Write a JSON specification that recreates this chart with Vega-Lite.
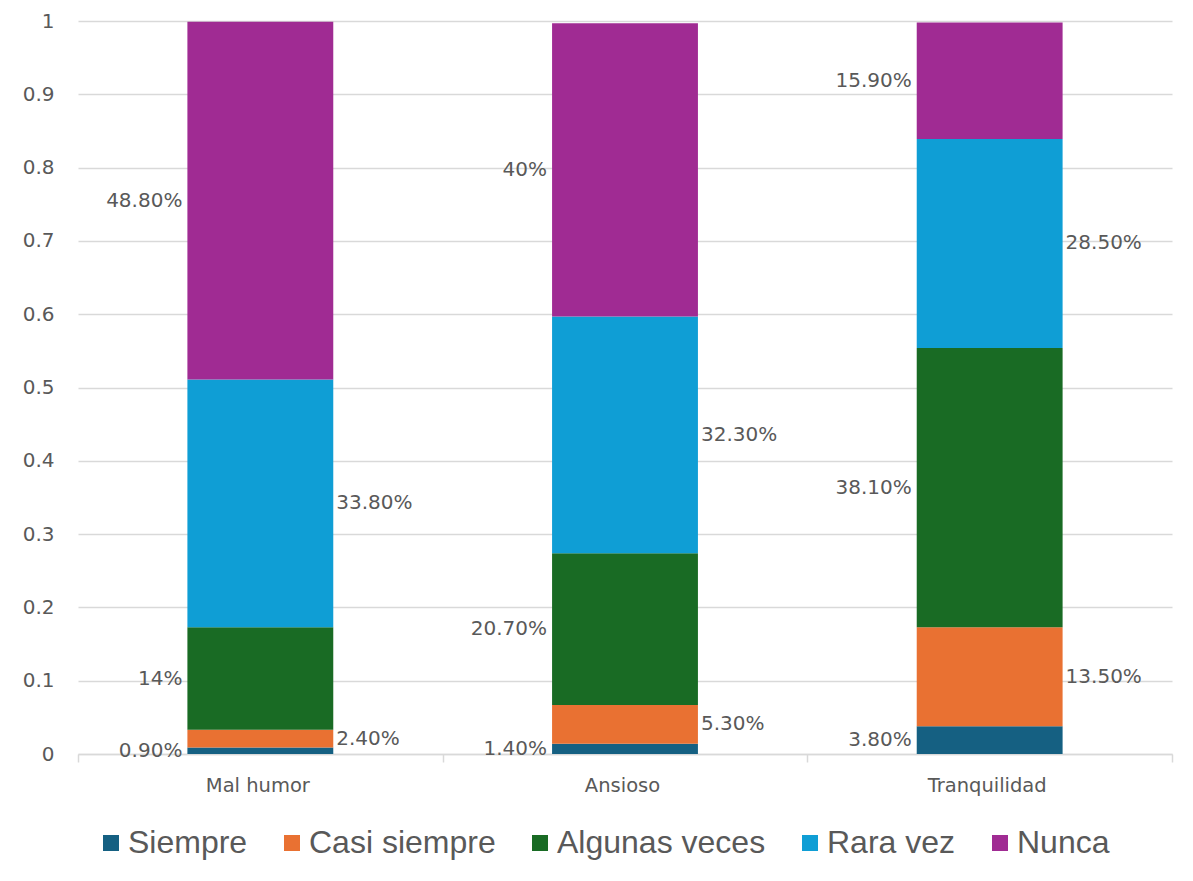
{
  "$schema": "https://vega.github.io/schema/vega-lite/v6.json",
  "autosize": {"type": "none"},
  "width": 1094,
  "height": 733,
  "padding": {"left": 78, "top": 21, "right": 21, "bottom": 127},
  "background": "white",
  "data": {
    "values": [
      {"categoria": "Mal humor", "serie": "Siempre", "orden": 1, "valor": 0.009},
      {"categoria": "Mal humor", "serie": "Casi siempre", "orden": 2, "valor": 0.024},
      {"categoria": "Mal humor", "serie": "Algunas veces", "orden": 3, "valor": 0.14},
      {"categoria": "Mal humor", "serie": "Rara vez", "orden": 4, "valor": 0.338},
      {"categoria": "Mal humor", "serie": "Nunca", "orden": 5, "valor": 0.488},
      {"categoria": "Ansioso", "serie": "Siempre", "orden": 1, "valor": 0.014},
      {"categoria": "Ansioso", "serie": "Casi siempre", "orden": 2, "valor": 0.053},
      {"categoria": "Ansioso", "serie": "Algunas veces", "orden": 3, "valor": 0.207},
      {"categoria": "Ansioso", "serie": "Rara vez", "orden": 4, "valor": 0.323},
      {"categoria": "Ansioso", "serie": "Nunca", "orden": 5, "valor": 0.4},
      {"categoria": "Tranquilidad", "serie": "Siempre", "orden": 1, "valor": 0.038},
      {"categoria": "Tranquilidad", "serie": "Casi siempre", "orden": 2, "valor": 0.135},
      {"categoria": "Tranquilidad", "serie": "Algunas veces", "orden": 3, "valor": 0.381},
      {"categoria": "Tranquilidad", "serie": "Rara vez", "orden": 4, "valor": 0.285},
      {"categoria": "Tranquilidad", "serie": "Nunca", "orden": 5, "valor": 0.159}
    ]
  },
  "transform": [
    {"stack": "valor", "groupby": ["categoria"], "sort": [{"field": "orden", "order": "ascending"}], "as": ["v0", "v1"]},
    {"calculate": "(datum.v0 + datum.v1) / 2", "as": "medio"},
    {"calculate": "(round(datum.valor * 10000) % 100 == 0) ? format(datum.valor, '.0%') : format(datum.valor, '.2%')", "as": "etiqueta"}
  ],
  "encoding": {
    "x": {
      "field": "categoria",
      "type": "nominal",
      "sort": ["Mal humor", "Ansioso", "Tranquilidad"],
      "scale": {"paddingInner": 0, "paddingOuter": 0},
      "axis": {
        "title": null,
        "labelAngle": 0,
        "labelFont": "DejaVu Sans",
        "labelFontSize": 19.5,
        "labelColor": "#595959",
        "labelPadding": 14,
        "labelOffset": -3,
        "domainColor": "#d9d9d9",
        "domainWidth": 1.5,
        "tickColor": "#d9d9d9",
        "tickWidth": 1.5,
        "tickSize": 8,
        "tickBand": "extent",
        "grid": false
      }
    }
  },
  "layer": [
    {
      "mark": {"type": "bar", "width": {"band": 0.4}},
      "encoding": {
        "y": {
          "field": "v0",
          "type": "quantitative",
          "scale": {"domain": [0, 1], "nice": false},
          "axis": {
            "title": null,
            "values": [0, 0.1, 0.2, 0.3, 0.4, 0.5, 0.6, 0.7, 0.8, 0.9, 1],
            "format": ".1~f",
            "domain": false,
            "ticks": false,
            "labelFont": "DejaVu Sans",
            "labelFontSize": 20,
            "labelColor": "#595959",
            "labelPadding": 24,
            "gridColor": "#d9d9d9",
            "gridWidth": 1.5
          }
        },
        "y2": {"field": "v1"},
        "color": {
          "field": "serie",
          "type": "nominal",
          "scale": {
            "domain": ["Siempre", "Casi siempre", "Algunas veces", "Rara vez", "Nunca"],
            "range": ["#156082", "#E97132", "#196B24", "#0F9ED5", "#A02B93"]
          },
          "legend": {
            "title": null,
            "orient": "none",
            "direction": "horizontal",
            "legendX": 17,
            "legendY": 806,
            "symbolType": "square",
            "symbolSize": 256,
            "symbolStrokeWidth": 0,
            "labelFont": "Liberation Sans",
            "labelFontSize": 32,
            "labelColor": "#595959",
            "labelLimit": 0,
            "labelOffset": 1,
            "columnPadding": 28
          }
        }
      }
    },
    {
      "transform": [{"filter": "indexof(['Siempre', 'Algunas veces', 'Nunca'], datum.serie) >= 0"}],
      "mark": {"type": "text", "align": "right", "baseline": "middle", "dx": -5, "font": "DejaVu Sans", "fontSize": 20, "color": "#595959"},
      "encoding": {
        "x": {"field": "categoria", "type": "nominal", "sort": ["Mal humor", "Ansioso", "Tranquilidad"], "bandPosition": 0.3},
        "y": {"field": "medio", "type": "quantitative"},
        "text": {"field": "etiqueta"}
      }
    },
    {
      "transform": [{"filter": "indexof(['Casi siempre', 'Rara vez'], datum.serie) >= 0"}],
      "mark": {"type": "text", "align": "left", "baseline": "middle", "dx": 3, "font": "DejaVu Sans", "fontSize": 20, "color": "#595959"},
      "encoding": {
        "x": {"field": "categoria", "type": "nominal", "sort": ["Mal humor", "Ansioso", "Tranquilidad"], "bandPosition": 0.7},
        "y": {"field": "medio", "type": "quantitative"},
        "text": {"field": "etiqueta"}
      }
    }
  ],
  "config": {
    "view": {"stroke": null},
    "font": "DejaVu Sans"
  }
}
